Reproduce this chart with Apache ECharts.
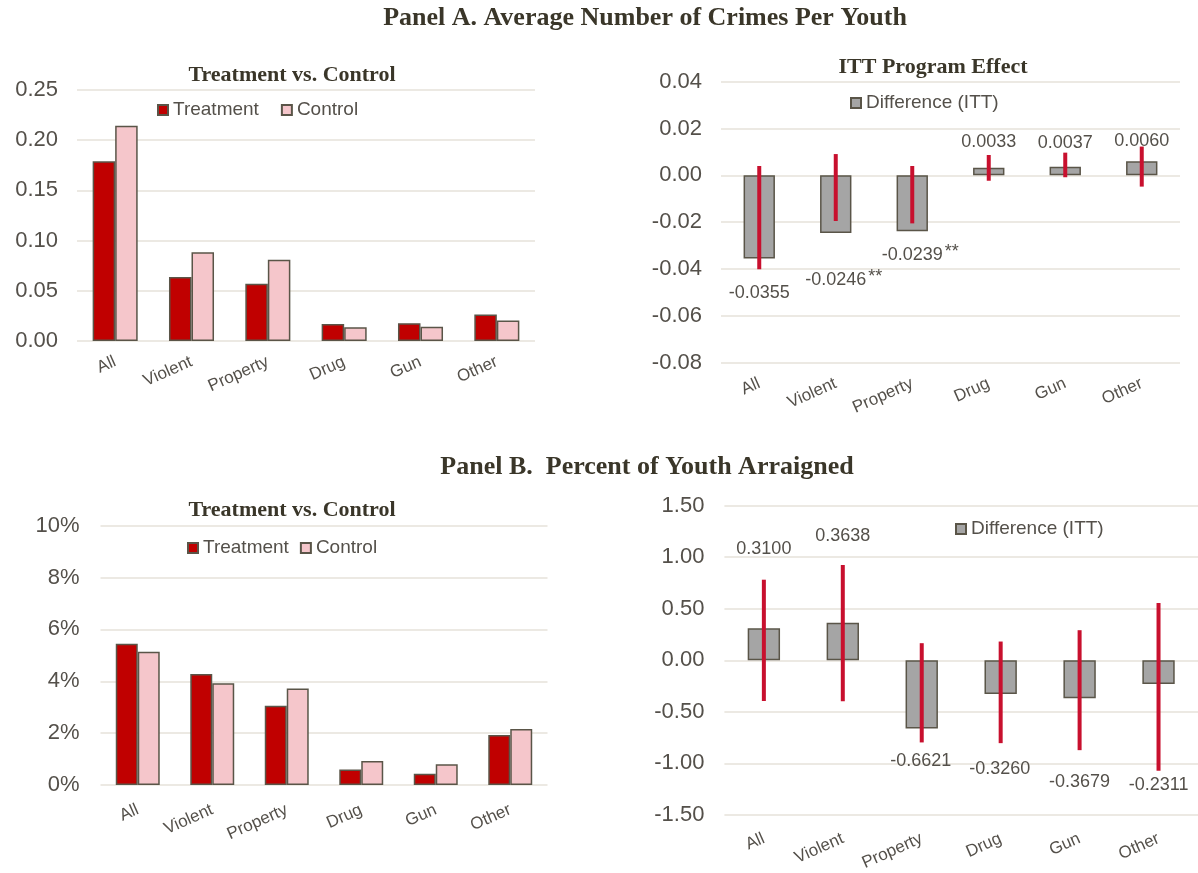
<!DOCTYPE html>
<html>
<head>
<meta charset="utf-8">
<title>Crimes and arraignments: treatment vs. control</title>
<script src="https://cdn.jsdelivr.net/npm/echarts@6/dist/echarts.min.js"></script>
<style>
  html, body { margin: 0; padding: 0; background: #ffffff; }
  #chart { width: 1198px; height: 873px; }
</style>
</head>
<body>
<div id="chart"></div>
<script>
// ---- data ----
const categories = ['All', 'Violent', 'Property', 'Drug', 'Gun', 'Other'];

// Panel A: average number of crimes per youth
const crimesTreatment = [0.179, 0.0637, 0.0571, 0.0170, 0.0178, 0.0264];
const crimesControl   = [0.2145, 0.0883, 0.0810, 0.0137, 0.0141, 0.0204];
const crimesITT       = [-0.0355, -0.0246, -0.0239, 0.0033, 0.0037, 0.0060];
const crimesCILow     = [-0.0401, -0.0195, -0.0205, -0.0023, -0.0008, -0.0048];
const crimesCIHigh    = [0.0040, 0.0091, 0.0040, 0.0087, 0.0097, 0.0123];
const crimesStars     = ['', '**', '**', '', '', ''];

// Panel B: percent of youth arraigned
const arraignTreatment = [5.45, 4.28, 3.06, 0.60, 0.43, 1.93];
const arraignControl   = [5.14, 3.92, 3.72, 0.93, 0.80, 2.16];
const arraignITT       = [0.3100, 0.3638, -0.6621, -0.3260, -0.3679, -0.2311];
const arraignCILow     = [-0.395, -0.398, -0.797, -0.804, -0.872, -1.072];
const arraignCIHigh    = [0.782, 0.924, 0.166, 0.182, 0.292, 0.556];
const arraignStars     = ['', '', '', '', '', ''];

// ---- styling ----
const SANS = '"Liberation Sans", Arial, sans-serif';
const SERIF = '"Liberation Serif", "Times New Roman", serif';
const TEXT = '#54504a';
const TITLE = '#3a3629';
const GRIDLINE = '#e6e2da';
const EDGE = '#5a5548';
const RED = '#C00000';
const PINK = '#F5C6CB';
const GRAY = '#A5A5A5';
const CI = '#C8102E';

// label nudges (px) for the ITT value labels, per category
const nudgeA = [[0, 20], [8, 32], [8, 9], [0, -11], [0, -9], [0, -5]];
const nudgeB = [[0, -64], [0, -72], [-1, 18], [-1, 60], [0, 69], [0, 86]];

function yAxis(grid, min, max, step, fmt, margin) {
  return {
    type: 'value', gridIndex: grid, min: min, max: max, interval: step,
    axisLine: { show: false }, axisTick: { show: false },
    splitLine: { lineStyle: { color: GRIDLINE, width: 1.5 } },
    axisLabel: { formatter: fmt, color: TEXT, fontFamily: SANS, fontSize: 22, margin: margin }
  };
}

function xAxis(grid, margin) {
  return {
    type: 'category', gridIndex: grid, data: categories,
    axisLine: { show: false, onZero: false }, axisTick: { show: false },
    axisLabel: { rotate: 24, interval: 0, color: TEXT, fontFamily: SANS, fontSize: 17, margin: margin }
  };
}

function pairBars(name, values, color, idx) {
  return {
    type: 'bar', name: name, xAxisIndex: idx, yAxisIndex: idx, data: values,
    barWidth: '29.5%', barGap: '0%',
    itemStyle: { color: color, borderColor: EDGE, borderWidth: 1.5 }
  };
}

function ittBars(values, stars, nudge, idx) {
  return {
    type: 'bar', name: 'Difference (ITT)', xAxisIndex: idx, yAxisIndex: idx,
    barWidth: '41%',
    itemStyle: { color: GRAY, borderColor: EDGE, borderWidth: 1.5 },
    data: values.map((v, i) => ({
      value: v,
      label: {
        show: true, position: 'outside', offset: nudge[i],
        formatter: '{n|' + v.toFixed(4) + '}' + (stars[i] ? '{s|' + stars[i] + '}' : '')
      }
    })),
    label: {
      rich: {
        n: { fontFamily: SANS, fontSize: 18, color: TEXT, lineHeight: 20 },
        s: { fontFamily: SANS, fontSize: 18, color: TEXT, lineHeight: 20, padding: [0, 0, 6, 2] }
      }
    },
    z: 2
  };
}

function errorBars(name, lows, highs, idx) {
  return {
    type: 'custom', name: name, xAxisIndex: idx, yAxisIndex: idx, z: 4,
    data: categories.map((c, i) => [i, lows[i], highs[i]]),
    encode: { x: 0, y: [1, 2] },
    renderItem: function (params, api) {
      const a = api.coord([api.value(0), api.value(1)]);
      const b = api.coord([api.value(0), api.value(2)]);
      return {
        type: 'line',
        shape: { x1: a[0], y1: a[1], x2: b[0], y2: b[1] },
        style: { stroke: CI, lineWidth: 4 }
      };
    }
  };
}

function legend(names, left, top, gap) {
  return {
    data: names, left: left, top: top, itemWidth: 10, itemHeight: 10, itemGap: gap,
    icon: 'rect', selectedMode: false,
    textStyle: { color: TEXT, fontFamily: SANS, fontSize: 19, lineHeight: 20 }
  };
}

function heading(text, x, y, size) {
  return {
    type: 'text', x: x, y: y, silent: true,
    style: {
      text: text, font: 'bold ' + size + 'px ' + SERIF, fill: TITLE,
      textAlign: 'center', textVerticalAlign: 'middle'
    }
  };
}

const two = v => v.toFixed(2);
const pct = v => v + '%';

const option = {
  backgroundColor: '#ffffff',
  animation: false,
  graphic: [
    heading('Panel A. Average Number of Crimes Per Youth', 645, 18, 26),
    heading('Treatment vs. Control', 292, 75, 22),
    heading('ITT Program Effect', 933, 67, 22),
    heading('Panel B.  Percent of Youth Arraigned', 647, 467, 26),
    heading('Treatment vs. Control', 292, 510, 22)
  ],
  legend: [
    legend(['Treatment', 'Control'], 152, 95, 22),
    legend(['Difference (ITT)'], 845, 88, 10),
    legend(['Treatment', 'Control'], 182, 533, 11),
    legend(['Difference (ITT)'], 950, 514, 10)
  ],
  grid: [
    { left: 77, top: 90, width: 458, height: 251 },
    { left: 721, top: 81.7, width: 459, height: 281 },
    { left: 100.5, top: 525.7, width: 447, height: 259.3 },
    { left: 724.4, top: 505.7, width: 481, height: 310.3 }
  ],
  xAxis: [xAxis(0, 20), xAxis(1, 20), xAxis(2, 24), xAxis(3, 23)],
  yAxis: [
    yAxis(0, 0, 0.25, 0.05, two, 19),
    yAxis(1, -0.08, 0.04, 0.02, two, 19),
    yAxis(2, 0, 10, 2, pct, 21),
    yAxis(3, -1.5, 1.5, 0.5, two, 20)
  ],
  series: [
    pairBars('Treatment', crimesTreatment, RED, 0),
    pairBars('Control', crimesControl, PINK, 0),
    ittBars(crimesITT, crimesStars, nudgeA, 1),
    errorBars('CI crimes', crimesCILow, crimesCIHigh, 1),
    pairBars('Treatment', arraignTreatment, RED, 2),
    pairBars('Control', arraignControl, PINK, 2),
    ittBars(arraignITT, arraignStars, nudgeB, 3),
    errorBars('CI arraigned', arraignCILow, arraignCIHigh, 3)
  ]
};

const chart = echarts.init(document.getElementById('chart'), null, { renderer: 'canvas' });
chart.setOption(option);
</script>
</body>
</html>
